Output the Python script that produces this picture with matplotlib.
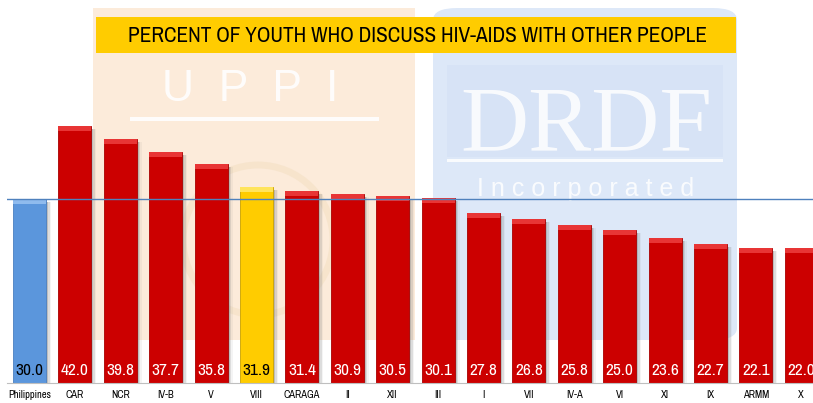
import matplotlib
matplotlib.use("Agg")
import matplotlib.pyplot as plt
from matplotlib.patches import Rectangle, FancyBboxPatch, Ellipse
import numpy as np

regions = ["Philippines", "CAR", "NCR", "IV-B", "V", "VIII", "CARAGA", "II", "XII",
           "III", "I", "VII", "IV-A", "VI", "XI", "IX", "ARMM", "X"]
values = [30.0, 42.0, 39.8, 37.7, 35.8, 31.9, 31.4, 30.9, 30.5,
          30.1, 27.8, 26.8, 25.8, 25.0, 23.6, 22.7, 22.1, 22.0]
national_value = 30.0
title = "PERCENT OF YOUTH WHO DISCUSS HIV-AIDS WITH OTHER PEOPLE"

W, H = 813, 403
NARROW = ["Archivo Narrow", "PT Sans Narrow", "Roboto Condensed", "DejaVu Sans"]

fig = plt.figure(figsize=(W / 100, H / 100), dpi=100)
fig.patch.set_facecolor("white")

def fx(px):
    return px / W

def fy(py):
    return 1 - py / H

# ---- watermark background (logos) ----
fig.patches.append(Rectangle((fx(93), fy(340)), fx(415) - fx(93), fy(8) - fy(340),
                             transform=fig.transFigure, facecolor="#FCEBDA",
                             edgecolor="none", zorder=-3))
fig.patches.append(FancyBboxPatch((fx(433), fy(340)), fx(737) - fx(433), fy(8) - fy(340),
                                  boxstyle="round,pad=0,rounding_size=0.03",
                                  transform=fig.transFigure, facecolor="#DDE8F8",
                                  edgecolor="none", zorder=-3))
# UPPI logo pieces (faint)
fig.text(fx(250), fy(101), "U  P  P  I", ha="center", va="baseline", fontsize=32,
         family=["Liberation Sans", "DejaVu Sans"], color="white", alpha=0.9, zorder=-2)
fig.patches.append(Rectangle((fx(130), fy(121)), fx(379) - fx(130), 4 / H,
                             transform=fig.transFigure, facecolor="white",
                             edgecolor="none", alpha=0.9, zorder=-2))
fig.patches.append(Ellipse((fx(258), fy(240)), 150 / W, 150 / H,
                           transform=fig.transFigure, facecolor="none",
                           edgecolor="#F4E0C4", lw=5, alpha=0.6, zorder=-2))
# DRDF logo pieces (faint)
fig.patches.append(Rectangle((fx(447), fy(157)), fx(723) - fx(447), fy(65) - fy(157),
                             transform=fig.transFigure, facecolor="#D7E3F6",
                             edgecolor="none", zorder=-2.5))
fig.text(fx(586), fy(150), "DRDF", ha="center", va="baseline", fontsize=68,
         family=["Liberation Serif", "DejaVu Serif"], color="white", alpha=0.85, zorder=-2)
fig.patches.append(Rectangle((fx(447), fy(162)), fx(723) - fx(447), 3 / H,
                             transform=fig.transFigure, facecolor="white",
                             edgecolor="none", alpha=0.85, zorder=-2))
fig.text(fx(586), fy(196), "I n c o r p o r a t e d", ha="center", va="baseline", fontsize=18,
         family=["Liberation Sans", "DejaVu Sans"], color="white", alpha=0.85, zorder=-2)

# ---- title box ----
fig.patches.append(Rectangle((fx(96), fy(53)), fx(736) - fx(96), fy(17) - fy(53),
                             transform=fig.transFigure, facecolor="#FFCC00",
                             edgecolor="none", zorder=3))
fig.text(fx(417), fy(35.5), title, ha="center", va="center", fontsize=15.3,
         family=NARROW, color="black", zorder=4)

# ---- axes ----
spacing = 45.4
left_px = 29.5 - spacing / 2
ax = fig.add_axes([fx(left_px), (H - 383) / H, 18 * spacing / W, 45 * 6.13 / H])
ax.patch.set_visible(False)
ax.set_zorder(1)

x = np.arange(len(regions))
colors, tops, edges, txtc = [], [], [], []
for r in regions:
    if r == "Philippines":
        colors.append("#5B96DC"); tops.append("#8FBBEE"); edges.append("#4A7FC0"); txtc.append("black")
    elif r == "VIII":
        colors.append("#FFCC00"); tops.append("#FFE45C"); edges.append("#C9A200"); txtc.append("black")
    else:
        colors.append("#CC0000"); tops.append("#E83535"); edges.append("#A80000"); txtc.append("white")

bw = 33 / spacing
px_x = 1 / spacing
px_y = 1 / 6.13

# soft shadows to the right
for dx, a in [(2, 0.32), (3.5, 0.2), (5, 0.08)]:
    ax.bar(x + dx * px_x, np.array(values) - 3 * px_y, width=bw, color="#7F7F7F",
           alpha=a, edgecolor="none", zorder=1)

ax.bar(x, values, width=bw, color=colors, edgecolor=edges, linewidth=0.6, zorder=2)
ax.bar(x, [5 * px_y] * len(x), bottom=np.array(values) - 5 * px_y, width=bw,
       color=tops, edgecolor="none", zorder=3)

ax.axhline(national_value, color="#4F81BD", lw=1.0, zorder=4)

for xi, v, c in zip(x, values, txtc):
    ax.text(xi, 2.1, f"{v:.1f}", ha="center", va="center", fontsize=12.5,
            family=NARROW, color=c, zorder=5)

ax.set_xlim(-0.5, len(regions) - 0.5)
ax.set_ylim(0, 45)
ax.set_xticks(x)
ax.set_xticklabels(regions, family=NARROW, fontsize=7.6)
ax.tick_params(axis="x", length=0, pad=5)
ax.set_yticks([])
for s in ["top", "right", "left"]:
    ax.spines[s].set_visible(False)
ax.spines["bottom"].set_color("#BFBFBF")
ax.spines["bottom"].set_linewidth(0.8)

fig.savefig("out.png", dpi=100)
